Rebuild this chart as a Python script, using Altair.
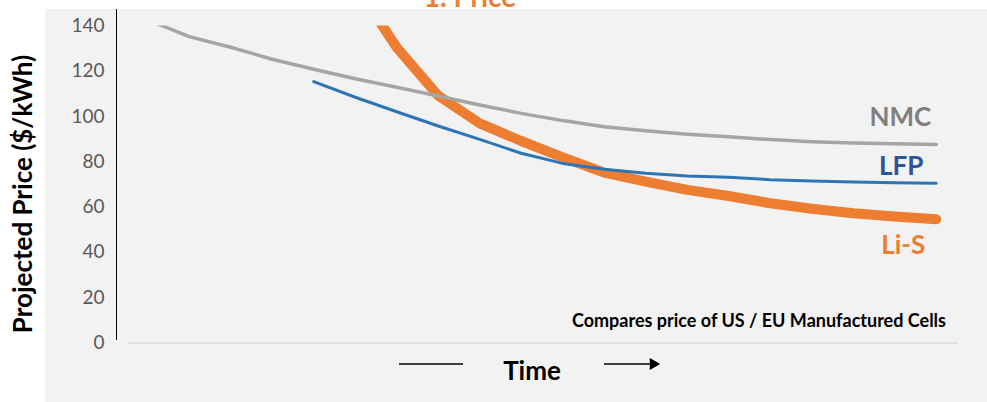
import altair as alt
import pandas as pd

# Projected cell price ($/kWh) over successive time periods
periods = list(range(20))
nmc = [142.5, 135.1, 130.4, 125.1, 120.7, 116.5, 112.7, 108.9, 104.9, 101.2,
       98.0, 95.3, 93.5, 92.0, 90.9, 89.6, 88.7, 88.1, 87.8, 87.4]
lfp = [None, None, None, None, 115.2, 108.3, 101.9, 95.6, 89.7, 83.6,
       79.1, 76.5, 74.7, 73.5, 73.0, 71.9, 71.3, 70.9, 70.6, 70.3]
lis = [None, None, None, None, None, 158.0, 130.3, 109.0, 96.8, 89.0,
       81.8, 75.0, 71.0, 67.4, 64.7, 61.5, 59.1, 57.1, 55.6, 54.4]
y_ticks = [0, 20, 40, 60, 80, 100, 120, 140]

series = {"NMC": nmc, "LFP": lfp, "Li-S": lis}
colors = {"NMC": "#a5a5a5", "LFP": "#2e75b6", "Li-S": "#ed7d31"}
label_colors = {"NMC": "#7f7f7f", "LFP": "#2f5597", "Li-S": "#ed7d31"}
widths = {"NMC": 3.5, "LFP": 3, "Li-S": 10}

rows = []
for name, vals in series.items():
    for p, v in zip(periods, vals):
        if v is not None:
            rows.append({"period": p, "price": v, "series": name})
df = pd.DataFrame(rows)

W, H = 830, 317
FONT = "Lato"

x_scale = alt.Scale(domain=[-0.5, 19.5], nice=False, zero=False)
y_scale = alt.Scale(domain=[0, 140], nice=False)

one = pd.DataFrame({"k": [0]})

# light panel behind the plot
panel = alt.Chart(one).mark_rect(color="#f2f2f2").encode(
    x=alt.value(-82), x2=alt.value(860), y=alt.value(-16.5), y2=alt.value(376.5)
)

def line(name):
    return alt.Chart(df).transform_filter(alt.datum.series == name).mark_line(
        color=colors[name], strokeWidth=widths[name], clip=True,
        strokeCap="round", strokeJoin="round"
    ).encode(
        x=alt.X("period:Q", scale=x_scale,
                axis=alt.Axis(labels=False, ticks=False, grid=False, title=None,
                              domainColor="#d9d9d9", domainWidth=1.5, zindex=1)),
        y=alt.Y("price:Q", scale=y_scale,
                axis=alt.Axis(values=y_ticks, domain=False, ticks=False, tickSize=0,
                              grid=False, title=None, labelFont=FONT, labelFontSize=19,
                              labelColor="#595959", labelPadding=23, zindex=1)),
    )

def end_label(name, dx, dy):
    last = df[df.series == name].tail(1)
    return alt.Chart(last).mark_text(
        text=name, font=FONT, fontSize=26, fontWeight="bold",
        color=label_colors[name], align="right", baseline="middle", dx=dx, dy=dy
    ).encode(x=alt.X("period:Q", scale=x_scale), y=alt.Y("price:Q", scale=y_scale))

# vertical axis line, running up to the panel top
y_rule = alt.Chart(one).mark_rule(color="#000000", strokeWidth=1).encode(
    x=alt.value(-10.5), y=alt.value(-16.5), y2=alt.value(314.5)
)

y_title = alt.Chart(one).mark_text(
    text="Projected Price ($/kWh)", font=FONT, fontSize=26, fontWeight="bold",
    color="#000000", angle=270, align="center", baseline="middle"
).encode(x=alt.value(-103), y=alt.value(168.5))

heading = alt.Chart(one).mark_text(
    text="1. Price", font=FONT, fontSize=28, fontWeight="bold",
    color="#ed7d31", align="center", baseline="alphabetic"
).encode(x=alt.value(343), y=alt.value(-18.5))

note = alt.Chart(one).mark_text(
    text="Compares price of US / EU Manufactured Cells", font=FONT, fontSize=18,
    fontWeight="bold", color="#000000", align="right", baseline="middle"
).encode(x=alt.value(819), y=alt.value(296.5))

time_text = alt.Chart(one).mark_text(
    text="Time", font=FONT, fontSize=26, fontWeight="bold",
    color="#000000", align="center", baseline="alphabetic"
).encode(x=alt.value(405), y=alt.value(354.5))

time_left = alt.Chart(one).mark_rule(color="#000000", strokeWidth=1.3).encode(
    x=alt.value(272), x2=alt.value(336), y=alt.value(338.5)
)
time_right = alt.Chart(one).mark_rule(color="#000000", strokeWidth=1.3).encode(
    x=alt.value(477), x2=alt.value(524), y=alt.value(338.5)
)
arrow_head = alt.Chart(one).mark_point(
    shape="triangle-right", filled=True, color="#000000", size=144, opacity=1
).encode(x=alt.value(528), y=alt.value(338.5))

chart = alt.layer(
    panel,
    line("Li-S"), line("LFP"), line("NMC"),
    end_label("NMC", -5, -27), end_label("LFP", -13, -16), end_label("Li-S", -11, 27),
    y_rule, y_title, heading, note, time_text, time_left, time_right, arrow_head,
).properties(
    width=W, height=H,
    autosize=alt.AutoSizeParams(type="none"),
    padding={"left": 127, "top": 25.5, "right": 30, "bottom": 59.5},
    background="#ffffff",
).configure_view(stroke=None)

chart.save("out.html", embed_options={"renderer": "svg", "actions": False})
